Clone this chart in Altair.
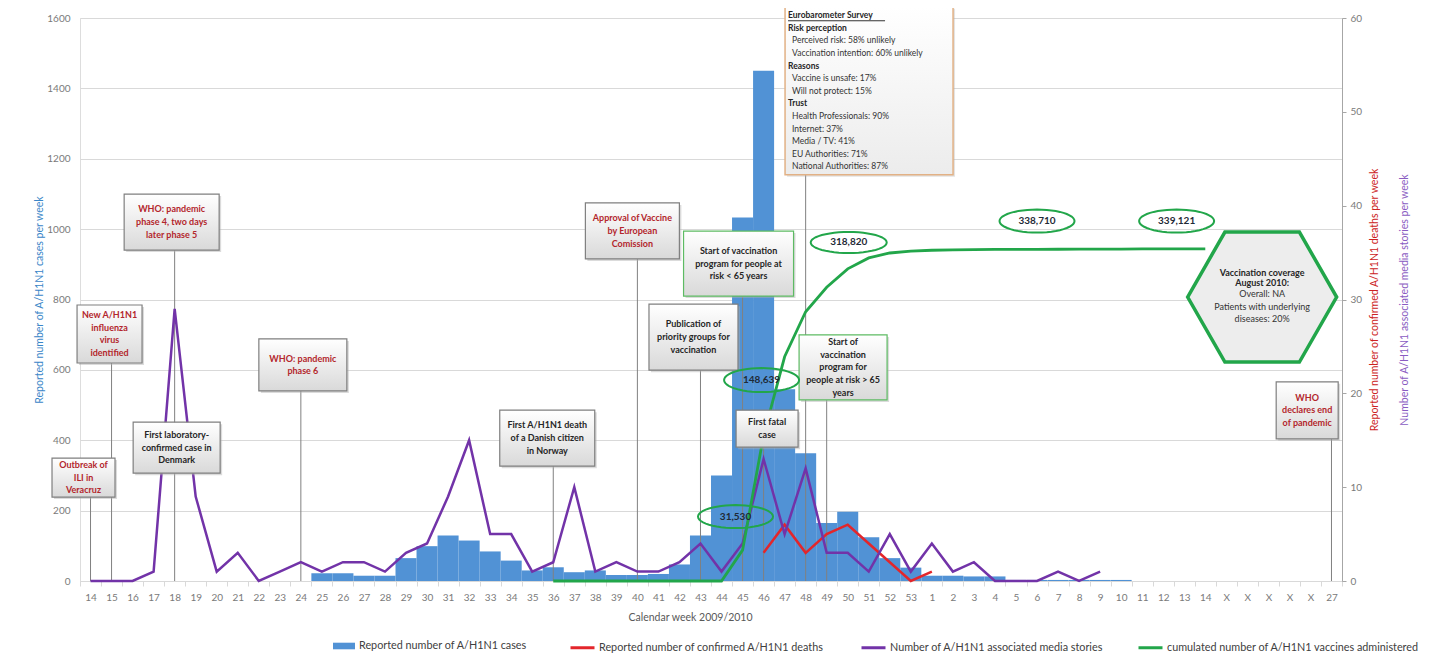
import math
import altair as alt
import pandas as pd

FONT = "Lato"
BLUE = "#5192d5"
RED = "#e3262b"
PURPLE = "#7233a8"
GREEN = "#22a64a"
TXT_RED = "#b3262c"
TXT_DARK = "#262626"
AXIS_GRAY = "#7a7a7a"
GRID = "#d9d9d9"
BOX_GRAY = "#7f7f7f"
BOX_GREEN = "#5dbb63"

# ---------------- data ----------------
week_labels = [str(w) for w in range(14, 54)] + [str(w) for w in range(1, 15)] + ["X", "X", "X", "X", "X", "27"]
week_idx = list(range(len(week_labels)))

cases = ([0] * 11
         + [22, 22, 15, 15, 65, 99, 129, 115, 84, 58,
            30, 39, 25, 30, 17, 17, 20, 47, 129, 300,
            1033, 1450, 545, 363, 165, 197, 124, 65, 38]
         + [15, 15, 13, 13, 3, 3, 3, 3, 3, 3, 0, 0, 0, 0]
         + [0] * 6)

media = [0, 0, 0, 1, 29, 9, 1, 3, 0, 1,
         2, 1, 2, 2, 1, 3, 4, 9, 15, 5,
         5, 1, 2, 10, 1, 2, 1, 1, 2, 4,
         1, 4, 13, 5, 12, 3, 3, 1, 5, 1,
         4, 1, 2, 0, 0, 0, 1, 0, 1]
media_idx = week_idx[:len(media)]

deaths_idx = list(range(32, 41))
deaths = [3, 6, 3, 5, 6, 4, 2, 0, 1]

vacc_idx = list(range(22, 54))
vaccines = ([0] * 9
            + [31530, 148639, 229000, 275000, 300000, 318820, 330000, 335000, 337000]
            + [337800, 338200, 338500, 338650, 338710, 338710, 338800, 338900, 338950, 339000,
               339121, 339121, 339121, 339121])

S_CASES = "Reported number of A/H1N1 cases"
S_DEATHS = "Reported number of confirmed  A/H1N1 deaths"
S_MEDIA = "Number of A/H1N1 associated media stories"
S_VACC = "cumulated number of  A/H1N1 vaccines administered"
X_TITLE = "Calendar week 2009/2010"

# annotation boxes: (week index, x offset px, centre value, width, height, connector top value, lines, text colour, border)
annotations = [
    (0, -7, 294, 63, 39, 239, ["Outbreak of", "ILI in", "Veracruz"], TXT_RED, BOX_GRAY),
    (1, -2, 702, 65, 58, 620, ["New A/H1N1", "influenza", "virus", "identified"], TXT_RED, BOX_GRAY),
    (4, -3, 1020, 95, 56, 940, ["WHO: pandemic", "phase 4, two days", "later phase 5"], TXT_RED, BOX_GRAY),
    (4, 2, 379, 87, 51, None, ["First laboratory-", "confirmed case in", "Denmark"], TXT_DARK, BOX_GRAY),
    (10, 2, 614, 88, 52, 540, ["WHO: pandemic", "phase 6"], TXT_RED, BOX_GRAY),
    (22, -6, 406, 95, 56, 327, ["First A/H1N1 death", "of a Danish citizen", "in Norway"], TXT_DARK, BOX_GRAY),
    (26, -5, 995, 94, 56, 915, ["Approval of Vaccine", "by European", "Comission"], TXT_RED, BOX_GRAY),
    (29, -7, 693, 89, 66, 600, ["Publication of", "priority groups for", "vaccination"], TXT_DARK, BOX_GRAY),
    (31, -4, 902, 110, 65, 810, ["Start of vaccination", "program for people at", "risk < 65 years"], TXT_DARK, BOX_GREEN),
    (32, 3.5, 433, 62, 37, 381, ["First fatal", "case"], TXT_DARK, BOX_GRAY),
    (35, 16.4, 607, 88, 65, 514, ["Start of", "vaccination", "program for", "people at risk > 65", "years"], TXT_DARK, BOX_GREEN),
    (59, -24.3, 485, 62, 57, 404, ["WHO", "declares end", "of pandemic"], TXT_RED, BOX_GRAY),
]

survey_idx, survey_dx, survey_yc, survey_w, survey_h, survey_bot = 34, 63.4, 1393, 168, 168, 1154
survey_lines = ["Eurobarometer Survey", "Risk perception", "Perceived risk: 58% unlikely",
                "Vaccination intention: 60% unlikely", "Reasons", "Vaccine is unsafe: 17%",
                "Will not protect: 15%", "Trust", "Health Professionals: 90%", "Internet: 37%",
                "Media / TV: 41%", "EU Authorities: 71%", "National Authorities: 87%"]
survey_bold = [True, True, False, False, True, False, False, True, False, False, False, False, False]

ellipses = [
    (30, 14, 183, 75, 23, "31,530"),
    (32, -2, 571, 75, 24, "148,639"),
    (36, 1, 962, 76, 21, "318,820"),
    (45, 0, 1023, 75, 23, "338,710"),
    (51, 13.4, 1023, 75, 23, "339,121"),
]

hex_idx, hex_dx, hex_yc, hex_w = 55, 14.8, 807, 149
hex_bold = ["Vaccination coverage", "August 2010:"]
hex_norm = ["Overall: NA", "Patients with underlying", "diseases: 20%"]

# ---------------- frames ----------------
cases_df = pd.DataFrame({"idx": week_idx, "cases": cases, "series": S_CASES})
media_df = pd.DataFrame({"idx": media_idx, "media": media, "series": S_MEDIA})
deaths_df = pd.DataFrame({"idx": deaths_idx, "deaths": deaths, "series": S_DEATHS})
vacc_df = pd.DataFrame({"idx": vacc_idx, "vacc": vaccines, "series": S_VACC})
rules_df = pd.DataFrame({
    "idx": [a[0] for a in annotations if a[5] is not None] + [survey_idx],
    "ybot": [a[5] for a in annotations if a[5] is not None] + [survey_bot],
})

# ---------------- scales / axes ----------------
xscale = alt.Scale(domain=week_idx, paddingInner=0, paddingOuter=0)
yL = alt.Scale(domain=[0, 1600], nice=False, zero=False)
yR = alt.Scale(domain=[0, 60], nice=False, zero=False)
yV = alt.Scale(domain=[0, 575000], nice=False, zero=False)

label_expr = "[" + ",".join("'%s'" % s for s in week_labels) + "][datum.value]"

x_axis = alt.Axis(labelExpr=label_expr, labelAngle=0, labelColor=AXIS_GRAY, labelFontSize=10,
                  labelFont=FONT, labelPadding=6, labelOverlap=False, tickBand="extent", tickSize=5,
                  tickColor=GRID, domainColor=GRID, grid=False, titleFontWeight="normal",
                  titleFontSize=10.5, titleColor="#595959", titleFont=FONT, titlePadding=10, titleX=610)


def X():
    return alt.X("idx:O", scale=xscale, axis=x_axis, title=X_TITLE)


yL_axis = alt.Axis(values=list(range(0, 1601, 200)), format="d", grid=True, gridColor=GRID, domain=False,
                   ticks=False, labelPadding=10, labelColor=AXIS_GRAY, labelFontSize=10, labelFont=FONT,
                   titleColor="#3a86c8", titleFontWeight="normal", titleFontSize=10.5, titleFont=FONT,
                   titlePadding=2)

yR_axis = alt.Axis(orient="right", values=list(range(0, 61, 10)), format="d", grid=False, domain=True,
                   domainColor="#a6a6a6", ticks=True, tickColor="#a6a6a6", tickSize=4, labelPadding=4,
                   labelColor=AXIS_GRAY, labelFontSize=10, labelFont=FONT, titleColor="#cc2222",
                   titleFontWeight="normal", titleFontSize=10.5, titleFont=FONT, titleAngle=270,
                   titleBaseline="top", titlePadding=8)

yM_axis = alt.Axis(orient="right", grid=False, domain=False, ticks=False, labels=False,
                   titleColor="#8a5cc2", titleFontWeight="normal", titleFontSize=10.5, titleFont=FONT,
                   titleAngle=270, titleBaseline="top", titlePadding=57)

fill_legend = alt.Legend(orient="none", legendX=253, legendY=617, title=None,
                         symbolType="M-1,-0.3L1,-0.3L1,0.3L-1,0.3Z", symbolSize=484, symbolStrokeWidth=0,
                         labelFontSize=10.8, labelColor="#404040", labelFont=FONT, labelOffset=4, padding=0,
                         labelLimit=0)
stroke_scale = alt.Scale(domain=[S_DEATHS, S_MEDIA, S_VACC], range=[RED, PURPLE, GREEN])
stroke_legend = alt.Legend(orient="none", legendX=489, legendY=616, title=None, direction="horizontal",
                           columns=3, symbolType="stroke", symbolSize=576, symbolStrokeWidth=3,
                           labelFontSize=10.8, labelColor="#404040", labelFont=FONT, labelOffset=3,
                           columnPadding=28, padding=0, labelLimit=0)

# ---------------- base series ----------------
bars = alt.Chart(cases_df).mark_bar().encode(
    x=X(),
    y=alt.Y("cases:Q", scale=yL, axis=yL_axis, title="Reported number of A/H1N1 cases per week"),
    fill=alt.Fill("series:N", scale=alt.Scale(domain=[S_CASES], range=[BLUE]), legend=fill_legend),
)
rules = alt.Chart(rules_df).mark_rule(color="#808080", strokeWidth=1).encode(
    x=X(), y=alt.Y("ybot:Q", scale=yL, axis=None), y2=alt.datum(0)
)
deaths_line = alt.Chart(deaths_df).mark_line(strokeWidth=2.5).encode(
    x=X(),
    y=alt.Y("deaths:Q", scale=yR, axis=yR_axis, title="Reported number of confirmed A/H1N1 deaths per week"),
    stroke=alt.Stroke("series:N", scale=stroke_scale, legend=stroke_legend),
)
media_line = alt.Chart(media_df).mark_line(strokeWidth=2.5).encode(
    x=X(),
    y=alt.Y("media:Q", scale=yR, axis=yM_axis, title="Number of A/H1N1 associated media stories per week"),
    stroke=alt.Stroke("series:N", scale=stroke_scale, legend=stroke_legend),
)
vacc_line = alt.Chart(vacc_df).mark_line(strokeWidth=2.8).encode(
    x=X(),
    y=alt.Y("vacc:Q", scale=yV, axis=None),
    stroke=alt.Stroke("series:N", scale=stroke_scale, legend=stroke_legend),
)

# ---------------- annotations ----------------
box_fill = alt.LinearGradient(gradient="linear",
                              stops=[alt.GradientStop(color="#ffffff", offset=0),
                                     alt.GradientStop(color="#d9d9d9", offset=1)],
                              x1=0, x2=0, y1=0, y2=1)

LH = 12.8
ann_layers = []
for ix, dx, yc, w, h, ybot, lines, tcol, bcol in annotations:
    d = pd.DataFrame({"idx": [ix], "yc": [yc]})
    base = alt.Chart(d).encode(x=X(), y=alt.Y("yc:Q", scale=yL, axis=None))
    ann_layers.append(base.mark_rect(width=w, height=h, xOffset=dx + 2, yOffset=2, fill="#b0b0b0", opacity=0.45))
    ann_layers.append(base.mark_rect(width=w, height=h, xOffset=dx, fill=box_fill, stroke=bcol, strokeWidth=1.2))
    ann_layers.append(base.mark_text(text=lines, xOffset=dx, yOffset=-(len(lines) - 1) * LH / 2,
                                     align="center", baseline="middle", lineHeight=LH,
                                     fontSize=9, fontWeight="bold", color=tcol, font=FONT))

# survey box
sd = pd.DataFrame({"idx": [survey_idx], "yc": [survey_yc]})
sbase = alt.Chart(sd).encode(x=X(), y=alt.Y("yc:Q", scale=yL, axis=None))
survey_fill = alt.LinearGradient(gradient="linear",
                                 stops=[alt.GradientStop(color="#ffffff", offset=0),
                                        alt.GradientStop(color="#ececec", offset=1)],
                                 x1=0, x2=0, y1=0, y2=1)
ann_layers.append(sbase.mark_rect(width=survey_w, height=survey_h, xOffset=survey_dx + 2, yOffset=2,
                                  fill="#b0b0b0", opacity=0.35))
ann_layers.append(sbase.mark_rect(width=survey_w, height=survey_h, xOffset=survey_dx, fill=survey_fill,
                                  stroke="#e2b185", strokeWidth=1.5))
left_x = survey_dx - survey_w / 2 + 3
SLH = 12.6
s_top = -(len(survey_lines) - 1) * SLH / 2
for i, (line, bold) in enumerate(zip(survey_lines, survey_bold)):
    ann_layers.append(sbase.mark_text(text=line, xOffset=left_x if bold else left_x + 4,
                                      yOffset=s_top + i * SLH, align="left", baseline="middle",
                                      fontSize=8.5, fontWeight="bold" if bold else "normal",
                                      color="#262626" if bold else "#333333", font=FONT))
ann_layers.append(sbase.mark_rect(width=97, height=0.8, xOffset=left_x + 48.5, yOffset=s_top + 5.5,
                                  fill="#333333"))

# ellipses with cumulated counts
for ix, dx, yc, w, h, label in ellipses:
    r = h / w
    pts = []
    for k in range(48):
        t = 2 * math.pi * k / 48
        pts.append("%.4f,%.4f" % (math.cos(t), r * math.sin(t)))
    path = "M" + "L".join(pts) + "Z"
    d = pd.DataFrame({"idx": [ix], "yc": [yc]})
    base = alt.Chart(d).encode(x=X(), y=alt.Y("yc:Q", scale=yL, axis=None))
    ann_layers.append(base.mark_point(shape=path, size=w * w, filled=False, stroke=GREEN, strokeWidth=2,
                                      opacity=1, xOffset=dx))
    ann_layers.append(base.mark_text(text=label, xOffset=dx, align="center", baseline="middle", fontSize=10,
                                     fontWeight="bold", color="#1f2a36", font=FONT))

# hexagon
hex_path = "M-1,0L-0.5,-0.872L0.5,-0.872L1,0L0.5,0.872L-0.5,0.872Z"
hd = pd.DataFrame({"idx": [hex_idx], "yc": [hex_yc]})
hbase = alt.Chart(hd).encode(x=X(), y=alt.Y("yc:Q", scale=yL, axis=None))
ann_layers.append(hbase.mark_point(shape=hex_path, size=hex_w * hex_w, filled=True, fill="#ededed",
                                   stroke=GREEN, strokeWidth=3.5, opacity=1, xOffset=hex_dx))
ann_layers.append(hbase.mark_text(text=hex_bold, xOffset=hex_dx, yOffset=-24.5, align="center",
                                  baseline="middle", lineHeight=10, fontSize=9, fontWeight="bold",
                                  color="#262626", font=FONT))
ann_layers.append(hbase.mark_text(text=hex_norm, xOffset=hex_dx, yOffset=-3, align="center",
                                  baseline="middle", lineHeight=12.5, fontSize=9, color="#333333", font=FONT))

chart = alt.layer(bars, rules, deaths_line, media_line, vacc_line, *ann_layers).resolve_scale(
    y="independent"
).properties(
    width=1262, height=563,
    autosize=alt.AutoSizeParams(type="none"),
    padding={"left": 72, "top": 10, "right": 86, "bottom": 73},
).configure_view(stroke=None).configure(background="white")

chart.save("out.html", embed_options={"renderer": "svg", "actions": False})
